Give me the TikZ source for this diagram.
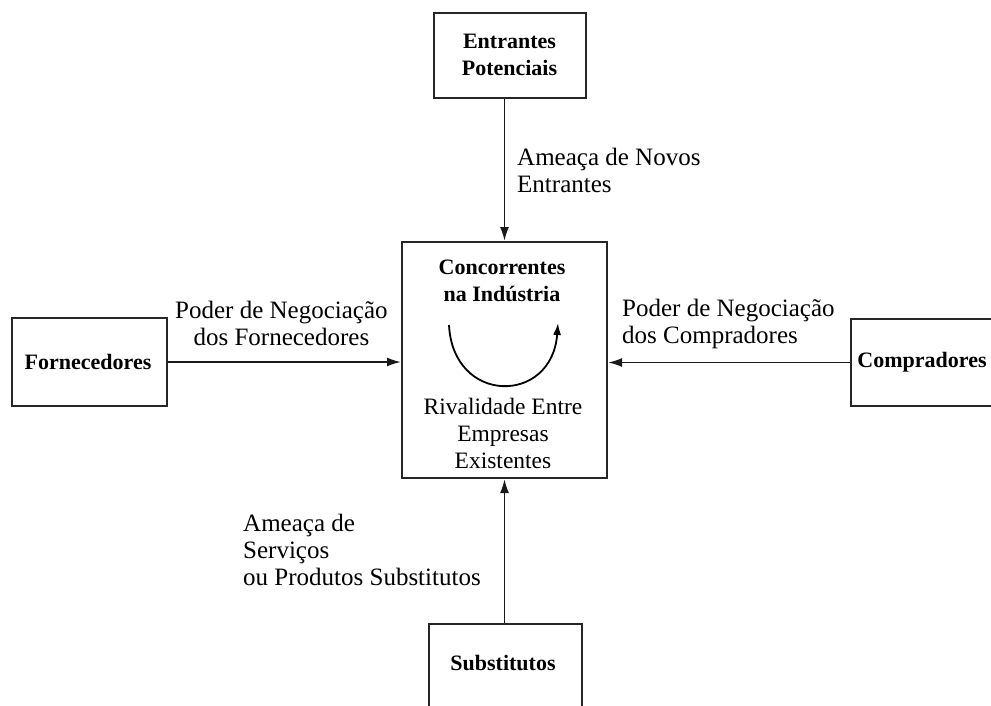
\documentclass[tikz,border=0pt]{standalone}
\usepackage{fontspec}
\setmainfont{Liberation Serif}
\usetikzlibrary{arrows.meta}
\begin{document}
\begin{tikzpicture}[x=1pt,y=-1pt,
  box/.style={draw=black!85, line width=2pt, rectangle, inner sep=0pt},
  boxtext/.style={font=\fontsize{22}{27}\selectfont\bfseries, align=center, inner sep=0pt},
  lbl/.style={font=\fontsize{25}{27}\selectfont, align=left, inner sep=0pt, anchor=west},
  ctext/.style={font=\fontsize{23.5}{27}\selectfont, align=center, inner sep=0pt},
  conn/.style={line width=1.9pt, draw=black!90, -{Latex[length=14pt,width=9pt]}}
]
\useasboundingbox (0,0) rectangle (991,705);
\clip (0,0) rectangle (991,705);
% boxes
\node[box, minimum width=152pt, minimum height=85pt] (top) at (509.5,55) {};
\node[boxtext] (topt) at (509.5,55) {Entrantes\\Potenciais};
\node[box, minimum width=205pt, minimum height=236pt] (mid) at (504.5,360) {};
\node[box, minimum width=155pt, minimum height=88pt] (left) at (89.5,362) {};
\node[boxtext] (leftt) at (88,362) {Fornecedores};
\node[box, minimum width=142pt, minimum height=87pt] (right) at (922,362.5) {};
\node[boxtext] (rightt) at (922,362) {Compradores};
\node[box, minimum width=153pt, minimum height=100pt, anchor=north] (sub) at (505.5,623) {};
\node[boxtext] (subt) at (503,663) {Substitutos};
% centre texts
\node[ctext, font=\fontsize{22}{27}\selectfont\bfseries] (conc) at (502,281) {Concorrentes\\na Indústria};
\node[ctext] (riv) at (503,433) {Rivalidade Entre\\Empresas\\Existentes};
\coordinate (cs) at (449,325);
\coordinate (ce) at (558,323);
\draw[line width=1.8pt, -{Latex[length=12pt,width=8pt]}] (cs) .. controls (453,405) and (552,405) .. (ce);
% connectors
\draw[conn] (top.south -| mid.north) -- (mid.north);
\draw[conn] (left.east) -- (left.east -| mid.west);
\draw[conn] (right.west) -- (right.west -| mid.east);
\draw[conn] (sub.north -| mid.south) -- (mid.south);
% labels
\node[lbl] (l1) at (517,170) {Ameaça de Novos\\Entrantes};
\node[lbl, align=center] (l2) at (175,323) {Poder de Negociação\\dos Fornecedores};
\node[lbl] (l3) at (622,324) {Poder de Negociação\\dos Compradores};
\node[lbl] (l4) at (243,550) {Ameaça de\\Serviços\\ou Produtos Substitutos};
\end{tikzpicture}
\end{document}
